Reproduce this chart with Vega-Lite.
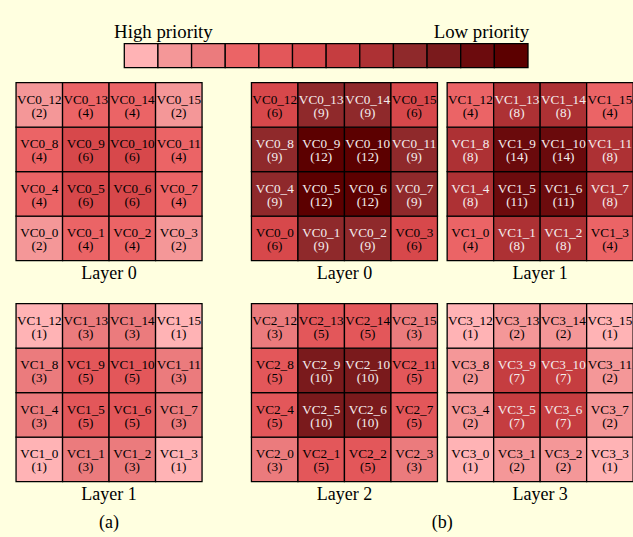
{
  "$schema": "https://vega.github.io/schema/vega-lite/v6.json",
  "background": "#FFFFE0",
  "padding": {"left": 15.05, "top": 22.6, "right": 2, "bottom": 6},
  "config": {
    "view": {"stroke": null},
    "font": "Liberation Serif",
    "title": {"font": "Liberation Serif", "fontSize": 18, "fontWeight": "normal", "color": "black"}
  },
  "datasets": {
    "cells": [
      {"panel":"a0","vc":0,"node":0,"value":2},{"panel":"a0","vc":0,"node":1,"value":4},{"panel":"a0","vc":0,"node":2,"value":4},{"panel":"a0","vc":0,"node":3,"value":2},
      {"panel":"a0","vc":0,"node":4,"value":4},{"panel":"a0","vc":0,"node":5,"value":6},{"panel":"a0","vc":0,"node":6,"value":6},{"panel":"a0","vc":0,"node":7,"value":4},
      {"panel":"a0","vc":0,"node":8,"value":4},{"panel":"a0","vc":0,"node":9,"value":6},{"panel":"a0","vc":0,"node":10,"value":6},{"panel":"a0","vc":0,"node":11,"value":4},
      {"panel":"a0","vc":0,"node":12,"value":2},{"panel":"a0","vc":0,"node":13,"value":4},{"panel":"a0","vc":0,"node":14,"value":4},{"panel":"a0","vc":0,"node":15,"value":2},
      {"panel":"a1","vc":1,"node":0,"value":1},{"panel":"a1","vc":1,"node":1,"value":3},{"panel":"a1","vc":1,"node":2,"value":3},{"panel":"a1","vc":1,"node":3,"value":1},
      {"panel":"a1","vc":1,"node":4,"value":3},{"panel":"a1","vc":1,"node":5,"value":5},{"panel":"a1","vc":1,"node":6,"value":5},{"panel":"a1","vc":1,"node":7,"value":3},
      {"panel":"a1","vc":1,"node":8,"value":3},{"panel":"a1","vc":1,"node":9,"value":5},{"panel":"a1","vc":1,"node":10,"value":5},{"panel":"a1","vc":1,"node":11,"value":3},
      {"panel":"a1","vc":1,"node":12,"value":1},{"panel":"a1","vc":1,"node":13,"value":3},{"panel":"a1","vc":1,"node":14,"value":3},{"panel":"a1","vc":1,"node":15,"value":1},
      {"panel":"b0","vc":0,"node":0,"value":6},{"panel":"b0","vc":0,"node":1,"value":9},{"panel":"b0","vc":0,"node":2,"value":9},{"panel":"b0","vc":0,"node":3,"value":6},
      {"panel":"b0","vc":0,"node":4,"value":9},{"panel":"b0","vc":0,"node":5,"value":12},{"panel":"b0","vc":0,"node":6,"value":12},{"panel":"b0","vc":0,"node":7,"value":9},
      {"panel":"b0","vc":0,"node":8,"value":9},{"panel":"b0","vc":0,"node":9,"value":12},{"panel":"b0","vc":0,"node":10,"value":12},{"panel":"b0","vc":0,"node":11,"value":9},
      {"panel":"b0","vc":0,"node":12,"value":6},{"panel":"b0","vc":0,"node":13,"value":9},{"panel":"b0","vc":0,"node":14,"value":9},{"panel":"b0","vc":0,"node":15,"value":6},
      {"panel":"b1","vc":1,"node":0,"value":4},{"panel":"b1","vc":1,"node":1,"value":8},{"panel":"b1","vc":1,"node":2,"value":8},{"panel":"b1","vc":1,"node":3,"value":4},
      {"panel":"b1","vc":1,"node":4,"value":8},{"panel":"b1","vc":1,"node":5,"value":11},{"panel":"b1","vc":1,"node":6,"value":11},{"panel":"b1","vc":1,"node":7,"value":8},
      {"panel":"b1","vc":1,"node":8,"value":8},{"panel":"b1","vc":1,"node":9,"value":14},{"panel":"b1","vc":1,"node":10,"value":14},{"panel":"b1","vc":1,"node":11,"value":8},
      {"panel":"b1","vc":1,"node":12,"value":4},{"panel":"b1","vc":1,"node":13,"value":8},{"panel":"b1","vc":1,"node":14,"value":8},{"panel":"b1","vc":1,"node":15,"value":4},
      {"panel":"b2","vc":2,"node":0,"value":3},{"panel":"b2","vc":2,"node":1,"value":5},{"panel":"b2","vc":2,"node":2,"value":5},{"panel":"b2","vc":2,"node":3,"value":3},
      {"panel":"b2","vc":2,"node":4,"value":5},{"panel":"b2","vc":2,"node":5,"value":10},{"panel":"b2","vc":2,"node":6,"value":10},{"panel":"b2","vc":2,"node":7,"value":5},
      {"panel":"b2","vc":2,"node":8,"value":5},{"panel":"b2","vc":2,"node":9,"value":10},{"panel":"b2","vc":2,"node":10,"value":10},{"panel":"b2","vc":2,"node":11,"value":5},
      {"panel":"b2","vc":2,"node":12,"value":3},{"panel":"b2","vc":2,"node":13,"value":5},{"panel":"b2","vc":2,"node":14,"value":5},{"panel":"b2","vc":2,"node":15,"value":3},
      {"panel":"b3","vc":3,"node":0,"value":1},{"panel":"b3","vc":3,"node":1,"value":2},{"panel":"b3","vc":3,"node":2,"value":2},{"panel":"b3","vc":3,"node":3,"value":1},
      {"panel":"b3","vc":3,"node":4,"value":2},{"panel":"b3","vc":3,"node":5,"value":7},{"panel":"b3","vc":3,"node":6,"value":7},{"panel":"b3","vc":3,"node":7,"value":2},
      {"panel":"b3","vc":3,"node":8,"value":2},{"panel":"b3","vc":3,"node":9,"value":7},{"panel":"b3","vc":3,"node":10,"value":7},{"panel":"b3","vc":3,"node":11,"value":2},
      {"panel":"b3","vc":3,"node":12,"value":1},{"panel":"b3","vc":3,"node":13,"value":2},{"panel":"b3","vc":3,"node":14,"value":2},{"panel":"b3","vc":3,"node":15,"value":1}
    ]
  },
  "spacing": 13.05,
  "vconcat": [
    {
      "width": 615.7,
      "height": 24,
      "data": {"values": [{"value":1},{"value":2},{"value":3},{"value":4},{"value":5},{"value":6},{"value":7},{"value":8},{"value":9},{"value":10},{"value":11},{"value":12}]},
      "transform": [{"calculate": "datum.value - 0.5", "as": "lo"}, {"calculate": "datum.value + 0.5", "as": "hi"}],
      "layer": [
        {"mark": {"type": "rect", "stroke": "black", "strokeWidth": 1.3},
         "encoding": {
           "x": {"field": "lo", "type": "quantitative", "axis": null, "scale": {"domain": [-2.7177, 15.5839], "nice": false, "zero": false}},
           "x2": {"field": "hi"},
           "color": {"field": "value", "type": "ordinal", "legend": null,
           "scale": {"domain": [1,2,3,4,5,6,7,8,9,10,11,12,14], "range": ["#FFB3B5","#F49798","#EB7B7D","#EB6466","#E3575A","#D7484B","#C53D40","#AD3134","#8F292B","#7A1A1C","#6C0B0D","#5C0000","#6A0A0C"]}}}},
        {"transform": [{"filter": "datum.value == 1"}],
         "mark": {"type": "text", "text": "High priority", "align": "left", "baseline": "alphabetic", "dx": -27, "dy": -18, "fontSize": 18.8, "color": "black"},
         "encoding": {"x": {"field": "value", "type": "quantitative", "axis": null}}},
        {"transform": [{"filter": "datum.value == 12"}],
         "mark": {"type": "text", "text": "Low priority", "align": "right", "baseline": "alphabetic", "dx": 18, "dy": -18, "fontSize": 18.8, "color": "black"},
         "encoding": {"x": {"field": "value", "type": "quantitative", "axis": null}}}
      ]
    },
    {
      "spacing": 47.4,
      "hconcat": [
        {
          "spacing": 19,
          "title": {"text": "(a)", "orient": "bottom", "anchor": "middle", "offset": 10},
          "vconcat": [
            {
              "width": 186, "height": 178,
              "data": {"name": "cells"},
              "transform": [{"filter": "datum.panel == 'a0'"},{"calculate": "datum.node % 4", "as": "col"},{"calculate": "floor(datum.node / 4)", "as": "row"},{"calculate": "['VC' + datum.vc + '_' + datum.node, '(' + datum.value + ')']", "as": "label"}],
              "title": {"text": "Layer 0", "orient": "bottom", "offset": 4},
              "encoding": {
                "x": {"field": "col", "type": "ordinal", "axis": null, "scale": {"domain": [0,1,2,3], "paddingInner": 0, "paddingOuter": 0}},
                "y": {"field": "row", "type": "ordinal", "axis": null, "scale": {"domain": [3,2,1,0], "paddingInner": 0, "paddingOuter": 0}}
              },
              "layer": [
                {"mark": {"type": "rect", "stroke": "black", "strokeWidth": 1.3},
                 "encoding": {"color": {"field": "value", "type": "ordinal", "legend": null,
                   "scale": {"domain": [1,2,3,4,5,6,7,8,9,10,11,12,14], "range": ["#FFB3B5","#F49798","#EB7B7D","#EB6466","#E3575A","#D7484B","#C53D40","#AD3134","#8F292B","#7A1A1C","#6C0B0D","#5C0000","#6A0A0C"]}}}},
                {"mark": {"type": "text", "fontSize": 13.2, "lineHeight": 13.4, "baseline": "middle", "dy": -5.3},
                 "encoding": {"text": {"field": "label"}, "color": {"condition": {"test": "datum.value >= 7", "value": "#F4EEEE"}, "value": "black"}}}
              ]
            },
            {
              "width": 186, "height": 178,
              "data": {"name": "cells"},
              "transform": [{"filter": "datum.panel == 'a1'"},{"calculate": "datum.node % 4", "as": "col"},{"calculate": "floor(datum.node / 4)", "as": "row"},{"calculate": "['VC' + datum.vc + '_' + datum.node, '(' + datum.value + ')']", "as": "label"}],
              "title": {"text": "Layer 1", "orient": "bottom", "offset": 4},
              "encoding": {
                "x": {"field": "col", "type": "ordinal", "axis": null, "scale": {"domain": [0,1,2,3], "paddingInner": 0, "paddingOuter": 0}},
                "y": {"field": "row", "type": "ordinal", "axis": null, "scale": {"domain": [3,2,1,0], "paddingInner": 0, "paddingOuter": 0}}
              },
              "layer": [
                {"mark": {"type": "rect", "stroke": "black", "strokeWidth": 1.3},
                 "encoding": {"color": {"field": "value", "type": "ordinal", "legend": null,
                   "scale": {"domain": [1,2,3,4,5,6,7,8,9,10,11,12,14], "range": ["#FFB3B5","#F49798","#EB7B7D","#EB6466","#E3575A","#D7484B","#C53D40","#AD3134","#8F292B","#7A1A1C","#6C0B0D","#5C0000","#6A0A0C"]}}}},
                {"mark": {"type": "text", "fontSize": 13.2, "lineHeight": 13.4, "baseline": "middle", "dy": -5.3},
                 "encoding": {"text": {"field": "label"}, "color": {"condition": {"test": "datum.value >= 7", "value": "#F4EEEE"}, "value": "black"}}}
              ]
            }
          ]
        },
        {
          "spacing": 19,
          "title": {"text": "(b)", "orient": "bottom", "anchor": "middle", "offset": 10},
          "vconcat": [
            {
              "spacing": 7.7,
              "hconcat": [
                {
                  "width": 186, "height": 178,
                  "data": {"name": "cells"},
                  "transform": [{"filter": "datum.panel == 'b0'"},{"calculate": "datum.node % 4", "as": "col"},{"calculate": "floor(datum.node / 4)", "as": "row"},{"calculate": "['VC' + datum.vc + '_' + datum.node, '(' + datum.value + ')']", "as": "label"}],
                  "title": {"text": "Layer 0", "orient": "bottom", "offset": 4},
                  "encoding": {
                    "x": {"field": "col", "type": "ordinal", "axis": null, "scale": {"domain": [0,1,2,3], "paddingInner": 0, "paddingOuter": 0}},
                    "y": {"field": "row", "type": "ordinal", "axis": null, "scale": {"domain": [3,2,1,0], "paddingInner": 0, "paddingOuter": 0}}
                  },
                  "layer": [
                    {"mark": {"type": "rect", "stroke": "black", "strokeWidth": 1.3},
                     "encoding": {"color": {"field": "value", "type": "ordinal", "legend": null,
                       "scale": {"domain": [1,2,3,4,5,6,7,8,9,10,11,12,14], "range": ["#FFB3B5","#F49798","#EB7B7D","#EB6466","#E3575A","#D7484B","#C53D40","#AD3134","#8F292B","#7A1A1C","#6C0B0D","#5C0000","#6A0A0C"]}}}},
                    {"mark": {"type": "text", "fontSize": 13.2, "lineHeight": 13.4, "baseline": "middle", "dy": -5.3},
                     "encoding": {"text": {"field": "label"}, "color": {"condition": {"test": "datum.value >= 7", "value": "#F4EEEE"}, "value": "black"}}}
                  ]
                },
                {
                  "width": 186, "height": 178,
                  "data": {"name": "cells"},
                  "transform": [{"filter": "datum.panel == 'b1'"},{"calculate": "datum.node % 4", "as": "col"},{"calculate": "floor(datum.node / 4)", "as": "row"},{"calculate": "['VC' + datum.vc + '_' + datum.node, '(' + datum.value + ')']", "as": "label"}],
                  "title": {"text": "Layer 1", "orient": "bottom", "offset": 4},
                  "encoding": {
                    "x": {"field": "col", "type": "ordinal", "axis": null, "scale": {"domain": [0,1,2,3], "paddingInner": 0, "paddingOuter": 0}},
                    "y": {"field": "row", "type": "ordinal", "axis": null, "scale": {"domain": [3,2,1,0], "paddingInner": 0, "paddingOuter": 0}}
                  },
                  "layer": [
                    {"mark": {"type": "rect", "stroke": "black", "strokeWidth": 1.3},
                     "encoding": {"color": {"field": "value", "type": "ordinal", "legend": null,
                       "scale": {"domain": [1,2,3,4,5,6,7,8,9,10,11,12,14], "range": ["#FFB3B5","#F49798","#EB7B7D","#EB6466","#E3575A","#D7484B","#C53D40","#AD3134","#8F292B","#7A1A1C","#6C0B0D","#5C0000","#6A0A0C"]}}}},
                    {"mark": {"type": "text", "fontSize": 13.2, "lineHeight": 13.4, "baseline": "middle", "dy": -5.3},
                     "encoding": {"text": {"field": "label"}, "color": {"condition": {"test": "datum.value >= 7", "value": "#F4EEEE"}, "value": "black"}}}
                  ]
                }
              ]
            },
            {
              "spacing": 7.7,
              "hconcat": [
                {
                  "width": 186, "height": 178,
                  "data": {"name": "cells"},
                  "transform": [{"filter": "datum.panel == 'b2'"},{"calculate": "datum.node % 4", "as": "col"},{"calculate": "floor(datum.node / 4)", "as": "row"},{"calculate": "['VC' + datum.vc + '_' + datum.node, '(' + datum.value + ')']", "as": "label"}],
                  "title": {"text": "Layer 2", "orient": "bottom", "offset": 4},
                  "encoding": {
                    "x": {"field": "col", "type": "ordinal", "axis": null, "scale": {"domain": [0,1,2,3], "paddingInner": 0, "paddingOuter": 0}},
                    "y": {"field": "row", "type": "ordinal", "axis": null, "scale": {"domain": [3,2,1,0], "paddingInner": 0, "paddingOuter": 0}}
                  },
                  "layer": [
                    {"mark": {"type": "rect", "stroke": "black", "strokeWidth": 1.3},
                     "encoding": {"color": {"field": "value", "type": "ordinal", "legend": null,
                       "scale": {"domain": [1,2,3,4,5,6,7,8,9,10,11,12,14], "range": ["#FFB3B5","#F49798","#EB7B7D","#EB6466","#E3575A","#D7484B","#C53D40","#AD3134","#8F292B","#7A1A1C","#6C0B0D","#5C0000","#6A0A0C"]}}}},
                    {"mark": {"type": "text", "fontSize": 13.2, "lineHeight": 13.4, "baseline": "middle", "dy": -5.3},
                     "encoding": {"text": {"field": "label"}, "color": {"condition": {"test": "datum.value >= 7", "value": "#F4EEEE"}, "value": "black"}}}
                  ]
                },
                {
                  "width": 186, "height": 178,
                  "data": {"name": "cells"},
                  "transform": [{"filter": "datum.panel == 'b3'"},{"calculate": "datum.node % 4", "as": "col"},{"calculate": "floor(datum.node / 4)", "as": "row"},{"calculate": "['VC' + datum.vc + '_' + datum.node, '(' + datum.value + ')']", "as": "label"}],
                  "title": {"text": "Layer 3", "orient": "bottom", "offset": 4},
                  "encoding": {
                    "x": {"field": "col", "type": "ordinal", "axis": null, "scale": {"domain": [0,1,2,3], "paddingInner": 0, "paddingOuter": 0}},
                    "y": {"field": "row", "type": "ordinal", "axis": null, "scale": {"domain": [3,2,1,0], "paddingInner": 0, "paddingOuter": 0}}
                  },
                  "layer": [
                    {"mark": {"type": "rect", "stroke": "black", "strokeWidth": 1.3},
                     "encoding": {"color": {"field": "value", "type": "ordinal", "legend": null,
                       "scale": {"domain": [1,2,3,4,5,6,7,8,9,10,11,12,14], "range": ["#FFB3B5","#F49798","#EB7B7D","#EB6466","#E3575A","#D7484B","#C53D40","#AD3134","#8F292B","#7A1A1C","#6C0B0D","#5C0000","#6A0A0C"]}}}},
                    {"mark": {"type": "text", "fontSize": 13.2, "lineHeight": 13.4, "baseline": "middle", "dy": -5.3},
                     "encoding": {"text": {"field": "label"}, "color": {"condition": {"test": "datum.value >= 7", "value": "#F4EEEE"}, "value": "black"}}}
                  ]
                }
              ]
            }
          ]
        }
      ]
    }
  ]
}
